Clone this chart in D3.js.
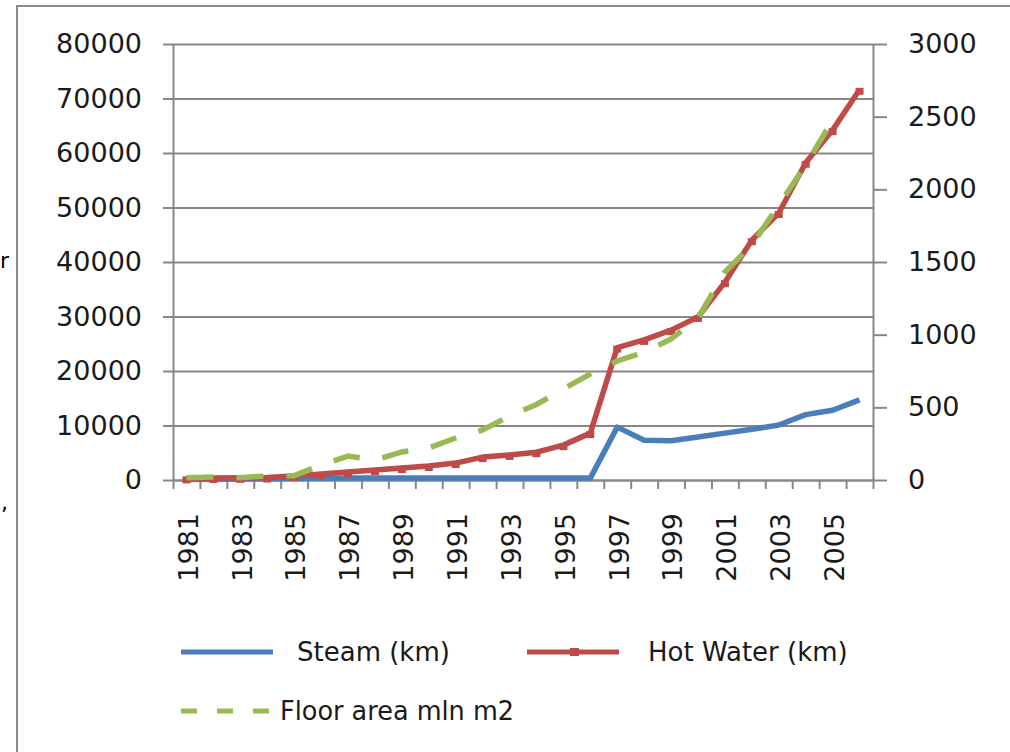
<!DOCTYPE html>
<html><head><meta charset="utf-8">
<script src="https://cdn.jsdelivr.net/npm/d3@7"></script>
<style>
html,body{margin:0;padding:0;background:#fff;}
svg{display:block;font-family:"DejaVu Sans",sans-serif;}
</style></head>
<body>
<svg id="c" width="1010" height="752"></svg>
<script>
const years = [1981,1982,1983,1984,1985,1986,1987,1988,1989,1990,1991,1992,1993,1994,1995,1996,1997,1998,1999,2000,2001,2002,2003,2004,2005,2006];
const steamKm = [100,150,200,250,300,300,350,350,350,350,350,350,350,350,350,350,9700,7300,7200,7900,8600,9300,10100,12000,12800,14700];
const hotWaterKm = [300,370,400,450,730,1100,1470,1830,2200,2570,3100,4200,4600,5100,6400,8600,24300,25700,27500,29900,36300,44000,49000,58200,64200,71600];
const floorAreaMlnM2 = [15,20,15,30,30,103,165,138,193,220,289,344,440,520,626,730,819,880,970,1115,1431,1617,1892,2167,2477,null];
const leftTicks = [0,10000,20000,30000,40000,50000,60000,70000,80000];
const rightTicks = [0,500,1000,1500,2000,2500,3000];
const labelYears = [1981,1983,1985,1987,1989,1991,1993,1995,1997,1999,2001,2003,2005];
const seriesNames = ["Steam (km)","Hot Water (km)","Floor area mln m2"];
const colors = {steam:"#4a7ebb", hot:"#be4b48", floor:"#98b954", grid:"#878787", text:"#1a1a1a"};

const svg = d3.select("#c");
const L = 173, R = 873, T = 44, B = 480;
const x = d3.scaleBand().domain(years).range([L,R]).padding(0);
const xc = d => x(d) + x.bandwidth()/2;
const xEdge = d3.scaleLinear().domain([0,years.length]).range([L,R]);
const yL = d3.scaleLinear().domain([0,80000]).range([B,T]);
const yR = d3.scaleLinear().domain([0,3000]).range([B,T]);
const fmt = d3.format("d");

// frame
svg.append("rect").attr("x",17).attr("y",6).attr("width",1010).attr("height",760)
  .attr("fill","#fff").attr("stroke","#8c8c8c").attr("stroke-width",2);
// stray characters from surrounding document, at the left edge
svg.append("text").attr("x",0).attr("y",268).attr("font-size",22).attr("fill","#000").text("r");
svg.append("text").attr("x",1).attr("y",510).attr("font-size",22).attr("fill","#000").text(",");

// gridlines
const grid = svg.append("g").attr("transform",`translate(${L},0)`)
  .call(d3.axisLeft(yL).tickValues(leftTicks).tickSize(-(R-L)).tickFormat(""));
grid.select(".domain").remove();
grid.selectAll("line").attr("stroke",colors.grid).attr("stroke-width",2);

// left axis
const ga = svg.append("g").attr("transform",`translate(${L},0)`)
  .call(d3.axisLeft(yL).tickValues(leftTicks).tickSize(10).tickPadding(21).tickSizeOuter(0).tickFormat(fmt));
ga.select(".domain").attr("stroke",colors.grid).attr("stroke-width",2);
ga.selectAll("line").attr("stroke",colors.grid).attr("stroke-width",2);
ga.selectAll("text").attr("font-size",27).attr("fill",colors.text).attr("font-family","DejaVu Sans");

// right axis
const gr = svg.append("g").attr("transform",`translate(${R},0)`)
  .call(d3.axisRight(yR).tickValues(rightTicks).tickSize(14).tickPadding(21).tickSizeOuter(0).tickFormat(fmt));
gr.select(".domain").attr("stroke",colors.grid).attr("stroke-width",2);
gr.selectAll("line").attr("stroke",colors.grid).attr("stroke-width",2);
gr.selectAll("text").attr("font-size",27).attr("fill",colors.text).attr("font-family","DejaVu Sans");

// x axis ticks (at category boundaries)
const gx = svg.append("g").attr("transform",`translate(0,${B})`)
  .call(d3.axisBottom(xEdge).tickValues(d3.range(0,years.length+1)).tickSize(9).tickFormat("").tickSizeOuter(0));
gx.select(".domain").attr("stroke",colors.grid).attr("stroke-width",2);
gx.selectAll("line").attr("stroke",colors.grid).attr("stroke-width",2);

// x labels
const gxl = svg.append("g").attr("transform",`translate(0,${B})`)
  .call(d3.axisBottom(x).tickValues(labelYears).tickSize(0).tickFormat(fmt));
gxl.select(".domain").remove();
gxl.selectAll("text").attr("font-size",27).attr("fill",colors.text).attr("font-family","DejaVu Sans")
  .attr("transform","rotate(-90)").attr("text-anchor","end")
  .attr("x",-33).attr("y",0).attr("dy","0.42em");

// lines
const lineL = vals => d3.line().defined(d=>d[1]!=null).x(d=>xc(d[0])).y(d=>yL(d[1]))(years.map((y,i)=>[y,vals[i]]));
const lineR = vals => d3.line().defined(d=>d[1]!=null).x(d=>xc(d[0])).y(d=>yR(d[1]))(years.map((y,i)=>[y,vals[i]]));

svg.append("path").attr("d",lineL(steamKm)).attr("fill","none").attr("stroke",colors.steam)
  .attr("stroke-width",5.5).attr("stroke-linejoin","round");
svg.append("path").attr("d",lineL(hotWaterKm)).attr("fill","none").attr("stroke",colors.hot)
  .attr("stroke-width",5.5).attr("stroke-linejoin","round");
svg.append("g").selectAll("rect").data(years.map((y,i)=>[y,hotWaterKm[i]])).join("rect")
  .attr("x",d=>xc(d[0])-4).attr("y",d=>yL(d[1])-2).attr("width",8).attr("height",7).attr("fill",colors.hot);
svg.append("path").attr("d",lineR(floorAreaMlnM2)).attr("fill","none").attr("stroke",colors.floor)
  .attr("stroke-width",5.5).attr("stroke-dasharray","27,23");

// legend
const lg = svg.append("g");
lg.append("line").attr("x1",181).attr("x2",273).attr("y1",652).attr("y2",652).attr("stroke",colors.steam).attr("stroke-width",5);
lg.append("text").attr("x",297).attr("y",652).attr("dy","0.36em").attr("font-size",26).attr("fill",colors.text).text(seriesNames[0]);
lg.append("line").attr("x1",527).attr("x2",619).attr("y1",652).attr("y2",652).attr("stroke",colors.hot).attr("stroke-width",5);
lg.append("rect").attr("x",570).attr("y",648).attr("width",9).attr("height",8).attr("fill",colors.hot);
lg.append("text").attr("x",648).attr("y",652).attr("dy","0.36em").attr("font-size",26).attr("fill",colors.text).text(seriesNames[1]);
lg.append("line").attr("x1",181).attr("x2",271).attr("y1",711).attr("y2",711).attr("stroke",colors.floor).attr("stroke-width",5).attr("stroke-dasharray","16,20");
lg.append("text").attr("x",280).attr("y",711).attr("dy","0.36em").attr("font-size",26).attr("fill",colors.text)
  .attr("textLength",234).attr("lengthAdjust","spacingAndGlyphs").text(seriesNames[2]);
</script>
</body></html>
